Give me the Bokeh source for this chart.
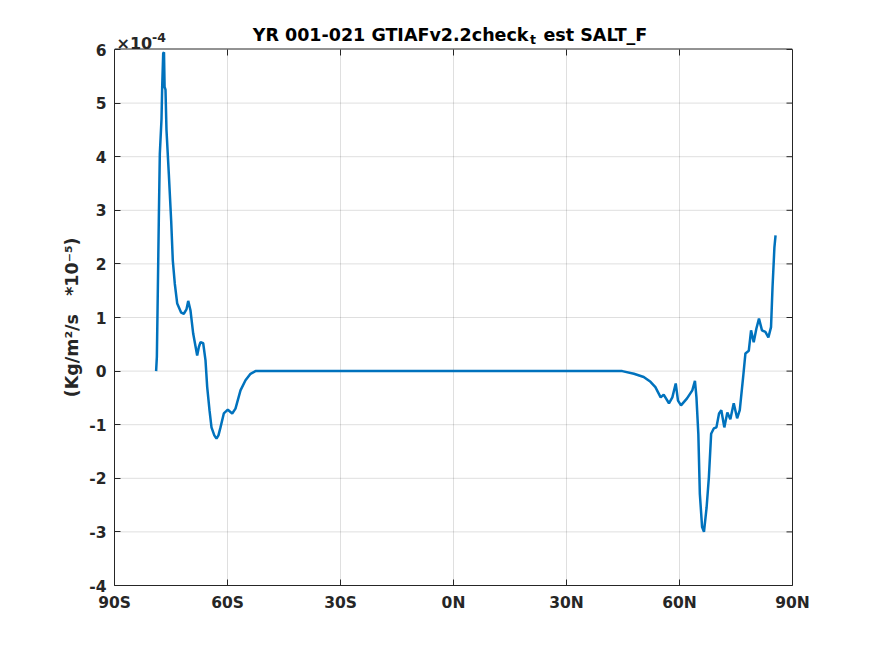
from bokeh.plotting import figure
from bokeh.models import FixedTicker, Range1d, LinearAxis
from bokeh.core.properties import value
from bokeh.embed import file_html
from bokeh.resources import INLINE

# Latitude (degrees, negative = S) and SALT_F zonal mean (units of 1e-4 Kg/m^2/s)
lat = [-78.95, -78.75, -78.5, -78.24, -77.97, -77.52, -77.34, -77.07, -76.86, -76.7,
       -76.46, -76.2, -75.58, -74.95, -74.52, -73.99, -73.35, -72.29, -71.6, -70.9,
       -70.43, -69.82, -69.11, -68.05, -67.6, -67.17, -66.45, -65.84, -65.39, -64.78,
       -64.25, -63.5, -62.92, -62.4, -61.86, -60.98, -59.92, -58.75, -57.88, -56.55,
       -55.22, -53.89, -52.57, -50.0, 0.0, 44.8,
       47.9, 50.5, 52.3, 53.6, 55.0, 55.8, 57.2, 58.1, 59.0, 59.6,
       60.4, 62.0, 63.4, 64.1, 64.5, 65.0, 65.4, 66.0, 66.5, 67.2,
       67.8, 68.4, 69.1, 69.8, 70.5, 71.1, 71.9, 72.7, 73.5, 74.4,
       75.3, 76.0, 76.9, 77.5, 78.4, 79.0, 79.7, 80.4, 81.1, 81.9,
       82.8, 83.6, 84.3, 84.7, 85.2, 85.5]
salt_f = [0.0, 0.27, 1.5, 2.8, 4.05, 4.7, 5.3, 5.93, 5.95, 5.3,
          5.25, 4.5, 3.68, 2.8, 2.06, 1.63, 1.26, 1.09, 1.07, 1.15,
          1.31, 1.13, 0.7, 0.29, 0.45, 0.54, 0.52, 0.2, -0.3, -0.73,
          -1.05, -1.2, -1.26, -1.2, -1.05, -0.79, -0.72, -0.79, -0.70, -0.36,
          -0.17, -0.05, 0.0, 0.0, 0.0, 0.0,
          -0.05, -0.11, -0.2, -0.3, -0.49, -0.44, -0.6, -0.49, -0.23, -0.55,
          -0.64, -0.51, -0.36, -0.18, -0.49, -1.17, -2.29, -2.91, -3.0, -2.54,
          -1.98, -1.17, -1.07, -1.05, -0.79, -0.73, -1.05, -0.77, -0.9, -0.6,
          -0.88, -0.73, -0.11, 0.33, 0.38, 0.76, 0.54, 0.79, 0.98, 0.76,
          0.73, 0.63, 0.82, 1.57, 2.31, 2.53]

x_ticks = [-90, -60, -30, 0, 30, 60, 90]
x_tick_labels = ["90S", "60S", "30S", "0N", "30N", "60N", "90N"]
y_ticks = [-4, -3, -2, -1, 0, 1, 2, 3, 4, 5, 6]
y_tick_labels = ["-4", "-3", "-2", "-1", "0", "1", "2", "3", "4", "5", "6"]

title_main = "YR 001-021 GTIAFv2.2check"
title_sub = "t"
title_rest = "est SALT_F"
exp_base = "\u00d710"
exp_power = "-4"
# trailing no-break spaces re-centre the label on the box (the axis panel is taller)
y_label = "(Kg/m\u00b2/s\u00a0\u00a0\u00a0*10\u207b\u2075)" + "\u00a0" * 8

FONT = "DejaVu Sans"
FS = "15.5px"
FS_BIG = "17.5px"
DARK = "#262626"

BOX_W, BOX_H = 678, 536       # the axes box, in pixels
HEAD = 49                     # pixels above the box kept for the title
LEFT, RIGHT, BOTTOM = 114, 75, 63
X0, X1, Y0, Y1 = -90, 90, -4, 6
TICK = 6

PX_X = (X1 - X0) / BOX_W      # data units per pixel
PX_Y = (Y1 - Y0) / BOX_H


def px_x(d):
    return X0 + d * PX_X


def px_y(d):
    return Y1 + d * PX_Y


p = figure(frame_width=BOX_W, frame_height=BOX_H + HEAD,
           min_border_left=LEFT, min_border_right=RIGHT,
           min_border_top=0, min_border_bottom=BOTTOM,
           x_range=Range1d(X0, X1), y_range=Range1d(Y0, px_y(HEAD)),
           output_backend="svg", toolbar_location=None,
           background_fill_color="white", border_fill_color="white")
p.outline_line_color = None
p.grid.visible = False

# grid lines, limited to the box
gx = [v for v in x_ticks if X0 < v < X1]
gy = [v for v in y_ticks if Y0 < v < Y1]
p.segment(x0=gx, y0=[Y0] * len(gx), x1=gx, y1=[Y1] * len(gx),
          line_color=DARK, line_alpha=0.15, line_width=1)
p.segment(x0=[X0] * len(gy), y0=gy, x1=[X1] * len(gy), y1=gy,
          line_color=DARK, line_alpha=0.15, line_width=1)

p.line(lat, salt_f, line_color="#0072BD", line_width=2.5)

# top edge of the box and inward ticks on the top and right edges
p.segment(x0=[X0], y0=[px_y(0.5)], x1=[X1], y1=[px_y(0.5)], line_color=DARK, line_width=1)
p.segment(x0=x_ticks, y0=[Y1] * len(x_ticks), x1=x_ticks, y1=[Y1 - TICK * PX_Y] * len(x_ticks),
          line_color=DARK, line_width=1)
p.segment(x0=[X1] * len(y_ticks), y0=y_ticks, x1=[X1 - TICK * PX_X] * len(y_ticks), y1=y_ticks,
          line_color=DARK, line_width=1)

for ax in (p.xaxis[0], p.yaxis[0]):
    ax.major_tick_in = TICK
    ax.major_tick_out = 0
    ax.minor_tick_line_color = None
    ax.axis_line_color = DARK
    ax.major_tick_line_color = DARK
    ax.major_label_text_color = DARK
    ax.major_label_text_font = FONT
    ax.major_label_text_font_size = FS
    ax.major_label_text_font_style = "bold"

p.xaxis[0].ticker = FixedTicker(ticks=x_ticks)
p.xaxis[0].major_label_overrides = {k: v for k, v in zip(x_ticks, x_tick_labels)}
p.xaxis[0].major_label_standoff = 8
p.yaxis[0].ticker = FixedTicker(ticks=y_ticks)
p.yaxis[0].bounds = (Y0, Y1)
p.yaxis[0].major_label_overrides = {k: v for k, v in zip(y_ticks, y_tick_labels)}
p.yaxis[0].major_label_standoff = 8
p.yaxis[0].axis_label = y_label
p.yaxis[0].axis_label_text_font = FONT
p.yaxis[0].axis_label_text_font_size = FS_BIG
p.yaxis[0].axis_label_text_font_style = "bold"
p.yaxis[0].axis_label_text_color = DARK
p.yaxis[0].axis_label_standoff = 4

# right edge of the box (ticks drawn above)
p.add_layout(LinearAxis(ticker=FixedTicker(ticks=[]), bounds=(Y0, Y1),
                        axis_line_color=DARK, major_tick_line_color=None,
                        minor_tick_line_color=None), "right")

# title with a subscript t, and the axis exponent
p.text(x=[px_x(414)], y=[px_y(15)], text=[title_main], text_align="right",
       text_baseline="alphabetic", text_font=value(FONT), text_font_size=FS_BIG,
       text_font_style="bold", text_color="black")
p.text(x=[px_x(415.5)], y=[px_y(10.5)], text=[title_sub], text_align="left",
       text_baseline="alphabetic", text_font=value(FONT), text_font_size="12.5px",
       text_font_style="bold", text_color="black")
p.text(x=[px_x(429)], y=[px_y(15)], text=[title_rest], text_align="left",
       text_baseline="alphabetic", text_font=value(FONT), text_font_size=FS_BIG,
       text_font_style="bold", text_color="black")
p.text(x=[px_x(2)], y=[px_y(6.5)], text=[exp_base], text_align="left",
       text_baseline="alphabetic", text_font=value(FONT), text_font_size="16px",
       text_font_style="bold", text_color=DARK)
p.text(x=[px_x(37.5)], y=[px_y(12)], text=[exp_power], text_align="left",
       text_baseline="alphabetic", text_font=value(FONT), text_font_size="12.5px",
       text_font_style="bold", text_color=DARK)

open("out.html", "w").write(file_html(p, INLINE))
